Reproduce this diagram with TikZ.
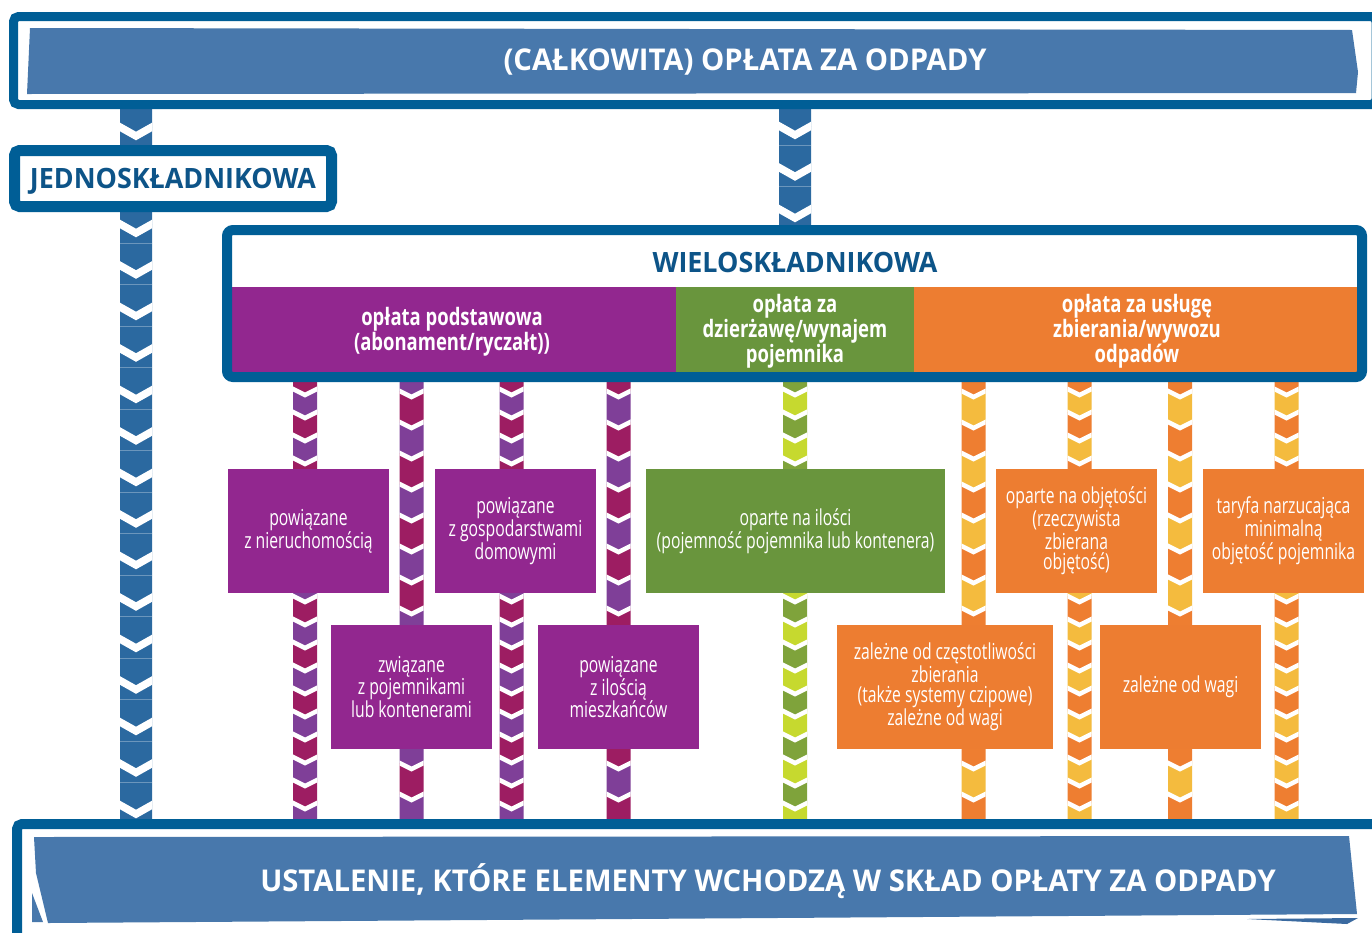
\documentclass[tikz,border=0pt]{standalone}
\usepackage{fontspec}
\setmainfont{Open Sans}
\newfontfamily\titlefont{Open Sans}[FakeStretch=0.975]
\newfontfamily\bluefont{Open Sans}[FakeStretch=0.96]
\newfontfamily\condfont{Open Sans}[FakeStretch=0.715]
\newfontfamily\condboldfont{Open Sans}[FakeStretch=0.77]
\definecolor{frameblue}{HTML}{005E96}
\definecolor{bannerblue}{HTML}{4878AC}
\definecolor{sliverblue}{HTML}{3A6AA0}
\definecolor{stripeblue}{HTML}{2B69A0}
\definecolor{titleblue}{HTML}{0D5488}
\definecolor{boxpurple}{HTML}{92278F}
\definecolor{stcrimson}{HTML}{9D1D62}
\definecolor{stviolet}{HTML}{7F3F98}
\definecolor{boxgreen}{HTML}{69953D}
\definecolor{stolive}{HTML}{7FA33B}
\definecolor{stlime}{HTML}{C6D92F}
\definecolor{boxorange}{HTML}{ED7D31}
\definecolor{storange}{HTML}{EE7E31}
\definecolor{styellow}{HTML}{F4BB3E}
\def\chevgap{4.5}
\def\faintline{0}
% #1 xc, #2 half width, #3 ytop, #4 ybot, #5 first chevron, #6 period, #7 depth, #8 colour A, #9 colour B
\newcommand{\chevband}[9]{%
\begin{scope}
\clip (#1-#2,#3) rectangle (#1+#2,#4);
\pgfmathtruncatemacro{\nchev}{ceil((#4-#5)/#6)+1}
\foreach \k in {-2,...,\nchev}{
  \pgfmathsetmacro{\ya}{#5+\k*#6}
  \pgfmathsetmacro{\yb}{#5+(\k+1)*#6}
  \pgfmathtruncatemacro{\oddseg}{mod(\k+4,2)}
  \ifnum\oddseg=1 \def\segcol{#8}\else\def\segcol{#9}\fi
  \fill[\segcol] (#1-#2,\ya) -- (#1,\ya+#7) -- (#1+#2,\ya) -- (#1+#2,\yb) -- (#1,\yb+#7) -- (#1-#2,\yb) -- cycle;
  \ifnum\faintline=1
    \draw[white, opacity=0.3, line width=0.7] (#1-#2,\ya+#7+10) -- (#1+#2,\ya+#7+10);
  \fi
}
\foreach \k in {-2,...,\nchev}{
  \pgfmathsetmacro{\ya}{#5+\k*#6}
  \draw[white, line width=\chevgap] (#1-2*#2,\ya-#7) -- (#1,\ya+#7) -- (#1+2*#2,\ya-#7);
}
\end{scope}}
\tikzset{
  frame/.style={draw=frameblue, fill=white},
  bigtitle/.style={text=white, inner sep=0pt, font=\titlefont\bfseries\fontsize{30}{30}\selectfont},
  bluetitle/.style={text=titleblue, inner sep=0pt, font=\bluefont\bfseries\fontsize{28}{28}\selectfont},
  hdr/.style={text=white, inner sep=0pt, align=center, font=\condboldfont\bfseries\fontsize{24}{21}\selectfont},
  catbox/.style={rectangle, inner sep=0pt, text=white, align=center, minimum width=161pt, minimum height=124pt,
    font=\condfont\fontsize{22}{20.5}\selectfont},
  pbox/.style={catbox, fill=boxpurple},
  gbox/.style={catbox, fill=boxgreen},
  obox/.style={catbox, fill=boxorange},
}
\begin{document}
\begin{tikzpicture}[x=1pt,y=-1pt]
\useasboundingbox (0,0) rectangle (1372,932);
\fill[white] (0,0) rectangle (1372,932);

% ---- chevron stripes (drawn behind boxes)
\def\chevgap{7.5}\def\faintline{1}
\chevband{136}{16}{100}{150}{127}{41.5}{9}{stripeblue}{stripeblue}
\chevband{136}{16}{200}{828}{224}{41.5}{9}{stripeblue}{stripeblue}
\chevband{795}{16}{100}{232}{126}{41.5}{9}{stripeblue}{stripeblue}
\def\chevgap{4.5}\def\faintline{0}
\chevband{305}{12}{375}{824}{389}{23}{6}{stcrimson}{stviolet}
\chevband{411.5}{12}{375}{824}{391}{31}{6}{stviolet}{stcrimson}
\chevband{511.5}{12}{375}{824}{389}{23}{6}{stcrimson}{stviolet}
\chevband{618.5}{12}{375}{824}{391}{31}{6}{stcrimson}{stviolet}
\chevband{795}{12}{375}{824}{389}{23}{6}{stolive}{stlime}
\chevband{973.5}{12}{375}{824}{391}{31}{6}{storange}{styellow}
\chevband{1079.5}{12}{375}{824}{389}{23}{6}{storange}{styellow}
\chevband{1180}{12}{375}{824}{391}{31}{6}{storange}{styellow}
\chevband{1286.5}{12}{375}{824}{389}{23}{6}{storange}{styellow}

% ---- top banner
\draw[frame, line width=9, rounded corners=5] (13.5,16.5) rectangle (1376,104.5);
\fill[bannerblue] (30,28) -- (1352,30) -- (1358,72) -- (1356,93) -- (27,94) -- cycle;
\node[bigtitle] (total) at (745,62) {(CAŁKOWITA) OPŁATA ZA ODPADY};

% ---- single component
\draw[frame, line width=11, rounded corners=5] (14.5,150.5) rectangle (331.5,206.5);
\node[bluetitle] (single) at (173,181) {JEDNOSKŁADNIKOWA};

% ---- multi component
\fill[white] (227,230) rectangle (1362,377);
\fill[boxpurple] (232,287) rectangle (676,372);
\fill[boxgreen] (676,287) rectangle (914,372);
\fill[boxorange] (914,287) rectangle (1357,372);
\draw[frameblue, line width=10, rounded corners=6] (227,230) rectangle (1362,377);
\node[bluetitle] (multi) at (795,262) {WIELOSKŁADNIKOWA};
\node[hdr] (h1) at (452,332) {opłata podstawowa\\(abonament/ryczałt))};
\node[hdr] (h2) at (795,331) {opłata za\\dzierżawę/wynajem\\pojemnika};
\node[hdr] (h3) at (1137,331) {opłata za usługę\\zbierania/wywozu\\odpadów};

% ---- category boxes
\node[pbox] (p1) at (308.5,531) {powiązane\\z nieruchomością};
\node[pbox] (p2) at (515.5,531) {powiązane\\z gospodarstwami\\domowymi};
\node[gbox, minimum width=299pt] (g1) at (795.5,531) {oparte na ilości\\(pojemność pojemnika lub kontenera)};
\node[obox] (o1) at (1076.5,531) {oparte na objętości\\(rzeczywista\\zbierana\\objętość)};
\node[obox] (o2) at (1283.5,531) {taryfa narzucająca\\minimalną\\objętość pojemnika};
\node[pbox] (p3) at (411.5,687) {związane\\z pojemnikami\\lub kontenerami};
\node[pbox] (p4) at (618.5,687) {powiązane\\z ilością\\mieszkańców};
\node[obox, minimum width=216pt] (o3) at (945,687) {zależne od częstotliwości\\zbierania\\(także systemy czipowe)\\zależne od wagi};
\node[obox] (o4) at (1180.5,687) {zależne od wagi};

% ---- bottom banner
\draw[frame, line width=10, rounded corners=5] (17,824) rectangle (1378,945);
\fill[bannerblue] (34,837) -- (1349,836) -- (1357,914) -- (48,923) -- (36,873) -- cycle;
\fill[bannerblue] (32,893) -- (43,922) -- (32,922) -- cycle;
\fill[sliverblue] (1247,919) -- (1358,918) -- (1347,924) -- cycle;
\node[bigtitle] (result) at (768,881) {USTALENIE, KTÓRE ELEMENTY WCHODZĄ W SKŁAD OPŁATY ZA ODPADY};
\end{tikzpicture}
\end{document}
